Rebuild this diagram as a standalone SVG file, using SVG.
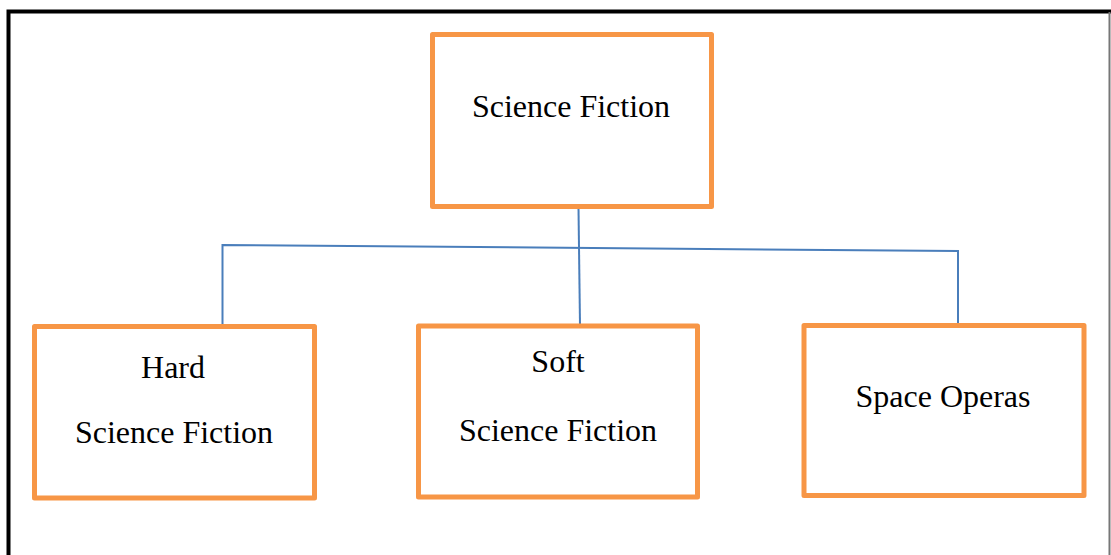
<svg xmlns="http://www.w3.org/2000/svg" width="1111" height="555" viewBox="0 0 1111 555">
<style>
.box{fill:#fff;stroke:#F79646;stroke-width:5;stroke-linejoin:round}
.lbl{font-family:"Liberation Serif","Times New Roman",serif;font-size:32px;fill:#000;text-anchor:middle}
.conn{fill:none;stroke:#4A7EBB;stroke-width:2}
</style>
<rect x="0" y="0" width="1111" height="555" fill="#fff"/>
<g id="frame">
<path d="M8.5 555 V11.5 H1111" fill="none" stroke="#000" stroke-width="4"/>
<line x1="1109.5" y1="12" x2="1109.5" y2="555" stroke="#777" stroke-width="2"/>
</g>
<g id="connectors">
<line class="conn" x1="578.5" y1="208" x2="580" y2="325"/>
<polyline class="conn" points="222.5,325 222.5,245 958,251 958,325"/>
</g>
<g id="root">
<rect class="box" x="432.5" y="34.5" width="279" height="172"/>
<text class="lbl" x="571" y="117">Science Fiction</text>
</g>
<g id="hard">
<rect class="box" x="34.5" y="326.5" width="280" height="171.5"/>
<text class="lbl" x="173" y="378">Hard</text>
<text class="lbl" x="174" y="443">Science Fiction</text>
</g>
<g id="soft">
<rect class="box" x="418.5" y="326" width="279" height="171"/>
<text class="lbl" x="558" y="372">Soft</text>
<text class="lbl" x="558" y="441">Science Fiction</text>
</g>
<g id="space">
<rect class="box" x="804" y="325.5" width="280" height="170"/>
<text class="lbl" x="943" y="407">Space Operas</text>
</g>
</svg>
